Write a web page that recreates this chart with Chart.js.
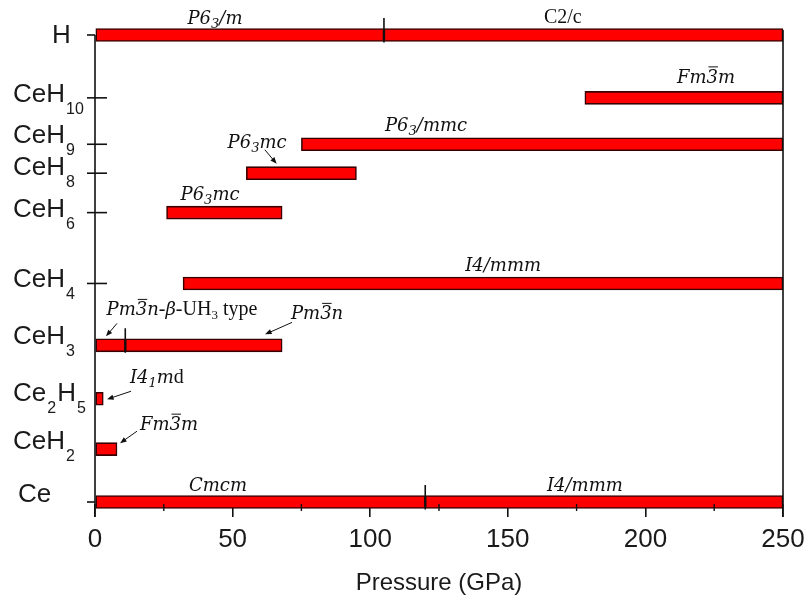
<!DOCTYPE html>
<html>
<head>
<meta charset="utf-8">
<script src="https://cdn.jsdelivr.net/npm/chart.js@4.4.1/dist/chart.umd.min.js"></script>
<style>
  html, body { margin: 0; padding: 0; background: #fff; }
  #wrap { width: 808px; height: 604px; }
</style>
</head>
<body>
<div id="wrap"><canvas id="phases"></canvas></div>
<script>
// compounds from top to bottom, "_n" marks a subscript
const compounds = ['H', 'CeH_10', 'CeH_9', 'CeH_8', 'CeH_6', 'CeH_4', 'CeH_3', 'Ce_2H_5', 'CeH_2', 'Ce'];
// row of each compound on the vertical scale (0 = top of plot)
const rowPos = [5, 68, 114.5, 143.5, 183, 254, 316, 369.5, 420, 473];
// stable pressure ranges (GPa): compound index, start, end
const phaseRow  = [0, 0, 1, 2, 3, 4, 5, 6, 6, 7, 8, 9, 9];
const phaseFrom = [0, 105, 178, 75, 55, 26, 32, 0, 11, 0, 0, 0, 120];
const phaseTo   = [105, 250, 250, 250, 95, 68, 250, 11, 68, 3, 8, 120, 250];
const pressureTicks = [0, 50, 100, 150, 200, 250];
const minorTicks = [25, 75, 125, 175, 225];

// label placement for the compounds (baseline row, left edge px, tick kind)
const labelBase = [13, 72, 113, 145, 187, 258, 315, 372, 420, 473];
const labelLeft = [52, 13, 13, 13, 13, 13, 13, 13, 13, 18];
const tickKind = ['out', 'both', 'both', 'both', 'both', 'both', '', '', '', 'out'];

// space group names: [style, text] pieces
const notes = [
  {p: 43.6, r: -6, t: [['i', 'P6'], ['s', '3'], ['i', '/m']]},
  {p: 170, r: -7, t: [['r', 'C2/c']]},
  {p: 222, r: 53, t: [['i', 'Fm'], ['b', '3'], ['i', 'm']]},
  {p: 120.3, r: 101, t: [['i', 'P6'], ['s', '3'], ['i', '/mmc']]},
  {p: 58.9, r: 118, t: [['i', 'P6'], ['s', '3'], ['i', 'mc']]},
  {p: 41.8, r: 170, t: [['i', 'P6'], ['s', '3'], ['i', 'mc']]},
  {p: 148.3, r: 242, t: [['i', 'I4/mmm']]},
  {p: 31.6, r: 286, t: [['i', 'Pm'], ['b', '3'], ['i', 'n'], ['r', '-'], ['i', 'β'], ['r', '-UH'], ['rs', '3'], ['r', ' type']]},
  {p: 80.7, r: 290, t: [['i', 'Pm'], ['b', '3'], ['i', 'n']]},
  {p: 22.5, r: 354, t: [['i', 'I4'], ['s', '1'], ['i', 'm'], ['r', 'd']]},
  {p: 26.9, r: 401, t: [['i', 'Fm'], ['b', '3'], ['i', 'm']]},
  {p: 44.7, r: 462, t: [['i', 'Cmcm']]},
  {p: 178, r: 462, t: [['i', 'I4/mmm']]}
];
// arrows pointing at small bars: p1, r1 -> p2, r2
const pointers = [
  [61.7, 120, 66.0, 134],
  [8.0, 294, 4.0, 307],
  [71.6, 293, 61.8, 305],
  [13.1, 362, 4.4, 370],
  [15.3, 402, 9.1, 414]
];

const segments = phaseFrom.map((f, i) => ({x: [f, phaseTo[i]], y: rowPos[phaseRow[i]]}));

const NOTE_SIZE = 18;
function pieceFont(style) {
  if (style === 'i' || style === 'b') return 'italic ' + NOTE_SIZE + 'px "DejaVu Serif"';
  if (style === 's') return 'italic 13px "DejaVu Serif"';
  if (style === 'rs') return '13px "Liberation Serif"';
  return (NOTE_SIZE + 2) + 'px "Liberation Serif"';
}

function drawRich(ctx, pieces, cx, base) {
  let w = 0;
  pieces.forEach(([s, t]) => { ctx.font = pieceFont(s); w += ctx.measureText(t).width; });
  let x = cx - w / 2;
  ctx.textAlign = 'left';
  ctx.textBaseline = 'alphabetic';
  pieces.forEach(([s, t]) => {
    ctx.font = pieceFont(s);
    const tw = ctx.measureText(t).width;
    const dy = (s === 's' || s === 'rs') ? 4 : 0;
    ctx.fillText(t, x, base + dy);
    if (s === 'b') {
      ctx.beginPath();
      ctx.lineWidth = 1;
      ctx.moveTo(x + 2, base - 16);
      ctx.lineTo(x + tw, base - 16);
      ctx.stroke();
    }
    x += tw;
  });
}

function drawCompound(ctx, label, left, base) {
  const parts = label.split(/_(\d+)/);
  let x = left;
  ctx.textAlign = 'left';
  ctx.textBaseline = 'alphabetic';
  parts.forEach((t, k) => {
    if (!t) return;
    const sub = k % 2 === 1;
    ctx.font = sub ? '16px "Liberation Sans"' : '26px "Liberation Sans"';
    ctx.fillText(t, x + (sub ? 1 : 0), base + (sub ? 12 : 0));
    x += ctx.measureText(t).width + (sub ? 2 : 0);
  });
}

function arrow(ctx, x1, y1, x2, y2) {
  const a = Math.atan2(y2 - y1, x2 - x1);
  const L = 7, h = 0.38;
  ctx.beginPath();
  ctx.lineWidth = 1;
  ctx.moveTo(x1, y1);
  ctx.lineTo(x2 - Math.cos(a) * 4, y2 - Math.sin(a) * 4);
  ctx.stroke();
  ctx.beginPath();
  ctx.moveTo(x2, y2);
  ctx.lineTo(x2 - L * Math.cos(a - h), y2 - L * Math.sin(a - h));
  ctx.lineTo(x2 - L * Math.cos(a + h), y2 - L * Math.sin(a + h));
  ctx.closePath();
  ctx.fill();
}

const overlay = {
  id: 'overlay',
  afterDatasetsDraw(chart) {
    const {ctx, chartArea, scales: {x, y}} = chart;
    const x0 = x.getPixelForValue(0);
    const x1 = x.getPixelForValue(250);
    const axisEnd = chartArea.bottom + 13;
    ctx.save();
    ctx.strokeStyle = '#111';
    ctx.fillStyle = '#111';

    // frame lines left and right
    ctx.lineWidth = 1.6;
    ctx.beginPath();
    ctx.moveTo(x0, y.getPixelForValue(rowPos[0]));
    ctx.lineTo(x0, axisEnd);
    ctx.moveTo(x1, chartArea.top);
    ctx.lineTo(x1, axisEnd);
    ctx.stroke();

    // minor ticks on the pressure axis
    ctx.lineWidth = 1.4;
    ctx.beginPath();
    minorTicks.forEach(v => {
      const px = x.getPixelForValue(v);
      ctx.moveTo(px, chartArea.bottom);
      ctx.lineTo(px, chartArea.bottom + 7);
    });
    ctx.stroke();

    // phase boundaries inside a row
    ctx.lineWidth = 1.6;
    ctx.beginPath();
    phaseFrom.forEach((f, i) => {
      const joined = phaseTo.some((t, j) => j !== i && phaseRow[j] === phaseRow[i] && t === f);
      if (!joined) return;
      const px = x.getPixelForValue(f);
      const py = y.getPixelForValue(rowPos[phaseRow[i]]);
      ctx.moveTo(px, py - 17);
      ctx.lineTo(px, py + 7.5);
    });
    ctx.stroke();

    // compound ticks and labels
    ctx.lineWidth = 1.6;
    compounds.forEach((c, i) => {
      const py = y.getPixelForValue(rowPos[i]);
      if (tickKind[i]) {
        ctx.beginPath();
        ctx.moveTo(x0 - 8, py);
        ctx.lineTo(tickKind[i] === 'both' ? x0 + 12 : x0, py);
        ctx.stroke();
      }
      ctx.fillStyle = '#1a1a1a';
      drawCompound(ctx, c, labelLeft[i], y.getPixelForValue(labelBase[i]));
    });

    // space group names and arrows
    ctx.fillStyle = '#111';
    notes.forEach(n => drawRich(ctx, n.t, x.getPixelForValue(n.p), y.getPixelForValue(n.r)));
    pointers.forEach(([p1, r1, p2, r2]) => arrow(ctx,
      x.getPixelForValue(p1), y.getPixelForValue(r1),
      x.getPixelForValue(p2), y.getPixelForValue(r2)));
    ctx.restore();
  }
};

new Chart(document.getElementById('phases'), {
  type: 'bar',
  data: {
    datasets: [{
      data: segments,
      backgroundColor: '#ff0000',
      borderColor: '#3a0000',
      borderWidth: 1.6,
      borderSkipped: false,
      barThickness: 13,
      clip: false
    }]
  },
  options: {
    indexAxis: 'y',
    responsive: true,
    maintainAspectRatio: false,
    animation: false,
    layout: {padding: {left: 95, right: 25, top: 30, bottom: 6}},
    plugins: {legend: {display: false}, tooltip: {enabled: false}},
    scales: {
      x: {
        type: 'linear',
        min: 0,
        max: 250,
        afterBuildTicks: axis => { axis.ticks = pressureTicks.map(v => ({value: v})); },
        // the end labels may hang into the side margins
        afterFit: axis => { axis.paddingLeft = 0; axis.paddingRight = 0; },
        grid: {drawOnChartArea: false, drawTicks: true, tickLength: 13, color: '#111', lineWidth: 1.6},
        border: {display: false},
        ticks: {color: '#1a1a1a', padding: 7, font: {family: 'Liberation Sans', size: 26}},
        title: {
          display: true,
          text: 'Pressure (GPa)',
          color: '#1a1a1a',
          font: {family: 'Liberation Sans', size: 24},
          padding: {top: 7, bottom: 0}
        }
      },
      y: {
        type: 'linear',
        display: false,
        offset: false,
        min: 0,
        max: 475,
        reverse: true
      }
    }
  },
  plugins: [overlay]
});
</script>
</body>
</html>
